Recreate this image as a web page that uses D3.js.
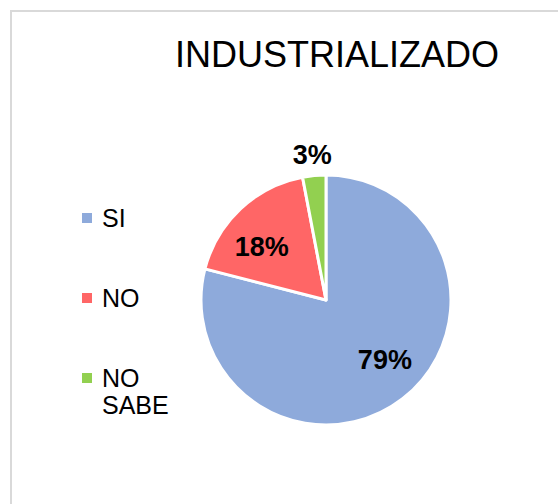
<!DOCTYPE html>
<html>
<head>
<meta charset="utf-8">
<script src="https://cdn.jsdelivr.net/npm/d3@7"></script>
<style>
  body { margin: 0; background: #fff; }
  text { font-family: "Liberation Sans", Arial, sans-serif; }
</style>
</head>
<body>
<div id="chart"></div>
<script>
// data
var categories = ["SI", "NO", "NO SABE"];
var values = [79, 18, 3];
var colors = ["#8eaadb", "#ff6666", "#92d050"];
var title = "INDUSTRIALIZADO";

var width = 558, height = 504;
var radius = 125;

var svg = d3.select("#chart").append("svg")
    .attr("width", width)
    .attr("height", height);

// chart border (runs off the bottom/right)
svg.append("rect")
    .attr("x", 11).attr("y", 11)
    .attr("width", 600).attr("height", 600)
    .attr("fill", "none")
    .attr("stroke", "#d9d9d9")
    .attr("stroke-width", 2);

svg.append("text")
    .attr("x", 175)
    .attr("y", 67)
    .attr("font-size", "36px")
    .attr("fill", "#000")
    .text(title);

var data = categories.map(function(c, i) { return { name: c, value: values[i] }; });
var total = d3.sum(values);

var color = d3.scaleOrdinal().domain(categories).range(colors);

var pie = d3.pie()
    .sort(null)
    .value(function(d) { return d.value; });

var arc = d3.arc().innerRadius(0).outerRadius(radius);

function labelPos(d) {
  var small = d.data.value / total < 0.05;
  var a = (d.startAngle + d.endAngle) / 2;
  var r = radius * 0.67;
  if (small) { r = radius * 1.17; } else { a -= 0.12; } // excel nudges inner labels a bit
  return [Math.sin(a) * r, -Math.cos(a) * r];
}

var g = svg.append("g").attr("transform", "translate(326,300)");

var slices = g.selectAll(".arc")
    .data(pie(data))
    .enter().append("g")
    .attr("class", "arc");

slices.append("path")
    .attr("d", arc)
    .attr("fill", function(d) { return color(d.data.name); })
    .attr("stroke", "#fff")
    .attr("stroke-width", 3)
    .attr("stroke-linejoin", "round");

slices.append("text")
    .attr("transform", function(d) { return "translate(" + labelPos(d) + ")"; })
    .attr("text-anchor", "middle")
    .attr("dy", "0.36em")
    .attr("font-size", "27px")
    .attr("font-weight", "bold")
    .attr("fill", "#000")
    .text(function(d) { return Math.round(d.data.value / total * 100) + "%"; });

// legend
var legend = svg.append("g").attr("transform", "translate(82,0)");
var rowY = [227, 307, 387];

categories.forEach(function(c, i) {
  var row = legend.append("g").attr("transform", "translate(0," + rowY[i] + ")");
  row.append("rect")
      .attr("x", 0).attr("y", -14)
      .attr("width", 10).attr("height", 10)
      .attr("fill", colors[i]);
  // wrapped names go on separate lines
  c.split(" ").forEach(function(w, j) {
    row.append("text")
        .attr("x", 20)
        .attr("y", j * 27)
        .attr("font-size", "25px")
        .attr("fill", "#000")
        .text(w);
  });
});
</script>
</body>
</html>
